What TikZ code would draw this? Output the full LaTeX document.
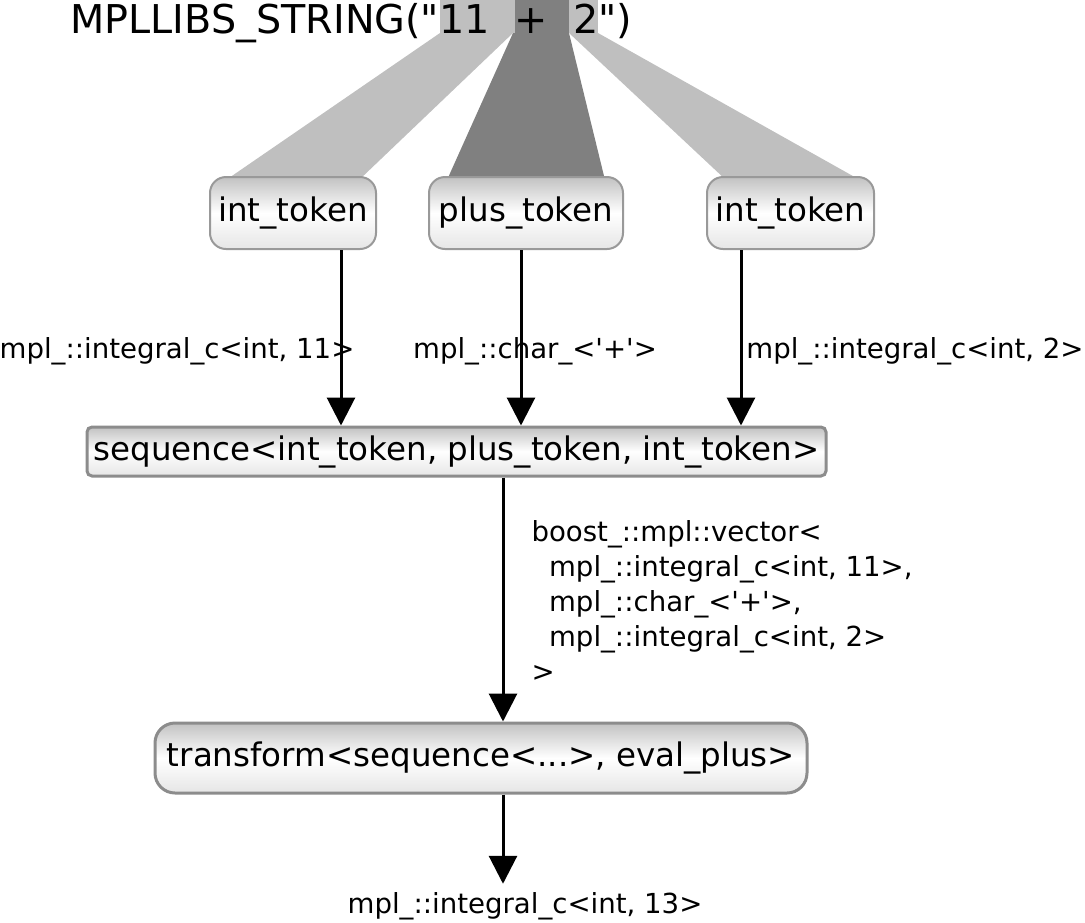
\documentclass[tikz,border=0pt]{standalone}
\usepackage{fontspec}
\setmainfont{DejaVu Sans}[Ligatures=TeXOff]
\usetikzlibrary{arrows.meta}

\begin{document}
\begin{tikzpicture}[x=1pt, y=-1pt, >={Triangle[length=28pt, width=28pt]}, line width=3pt,
  token/.style={draw=black!40, line width=2pt, rounded corners=16pt, top color=black!24, bottom color=black!10, middle color=white,
    minimum height=72pt, inner sep=0pt, font=\fontsize{32.5}{39}\selectfont},
  seqbox/.style={draw=black!45, line width=3pt, top color=black!24, bottom color=black!10, middle color=white,
    inner sep=0pt, font=\fontsize{32.5}{39}\selectfont},
  lbl/.style={font=\fontsize{27.6}{35}\selectfont, inner sep=0pt}]
  \useasboundingbox (0,0) rectangle (1085,922);
  % ===== Quelltext und Trichter =====
  \fill[black!25] (440,0) rectangle (515,33);
  \fill[black!50] (515,0) rectangle (569,33);
  \fill[black!25] (569,0) rectangle (598,33);
  \fill[black!25] (440,33) -- (513,33) -- (359,180) -- (226,180) -- cycle;
  \fill[black!50] (513,33) -- (569,33) -- (605,180) -- (447,180) -- cycle;
  \fill[black!25] (569,33) -- (598,33) -- (860,180) -- (726,180) -- cycle;
  \node[anchor=base west, inner sep=0pt, font=\fontsize{39.7}{48}\selectfont] (title) at (69,33) {MPLLIBS\_STRING("11\ \ +\ \ 2")};
  % ===== Token =====
  \node[token, minimum width=166pt] (lt) at (293,213) {int\_token};
  \node[token, minimum width=194pt] (pt) at (526,213) {plus\_token};
  \node[token, minimum width=167pt] (rt) at (790.5,213) {int\_token};
  % ===== sequence / transform =====
  \node[seqbox, rounded corners=5pt, minimum width=739pt, minimum height=49pt] (seq) at (456.5,451.5) {sequence<int\_token, plus\_token, int\_token>};
  \node[seqbox, rounded corners=20pt, minimum width=652pt, minimum height=70pt] (tr) at (481,758) {transform<sequence<...>, eval\_plus>};
  \node[lbl, inner ysep=7pt] (res) at (525,906) {mpl\_::integral\_c<int, 13>};
  % ===== Beschriftungen =====
  \node[lbl, anchor=base] (l1) at (177,358) {mpl\_::integral\_c<int, 11>};
  \node[lbl, anchor=base] (l2) at (535,358) {mpl\_::char\_<'+'>};
  \node[lbl, anchor=base] (l3) at (915,358) {mpl\_::integral\_c<int, 2>};
  \node[lbl, anchor=north west, align=left] (l4) at (530,519) {boost\_::mpl::vector<\\
    \hspace*{17.6pt}mpl\_::integral\_c<int, 11>,\\
    \hspace*{17.6pt}mpl\_::char\_<'+'>,\\
    \hspace*{17.6pt}mpl\_::integral\_c<int, 2>\\
    >};
  % ===== Pfeile =====
  \coordinate (a1) at ([xshift=48pt]lt.south);
  \coordinate (a2) at ([xshift=-5pt]pt.south);
  \coordinate (a3) at ([xshift=-49.5pt]rt.south);
  \coordinate (a4) at ([xshift=46.5pt]seq.south);
  \coordinate (a5) at ([xshift=22pt]tr.south);
  \draw[->] (a1) -- (a1 |- seq.north);
  \draw[->] (a2) -- (a2 |- seq.north);
  \draw[->] (a3) -- (a3 |- seq.north);
  \draw[->] (a4) -- (a4 |- tr.north);
  \draw[->] (a5) -- (a5 |- res.north);
\end{tikzpicture}
\end{document}
